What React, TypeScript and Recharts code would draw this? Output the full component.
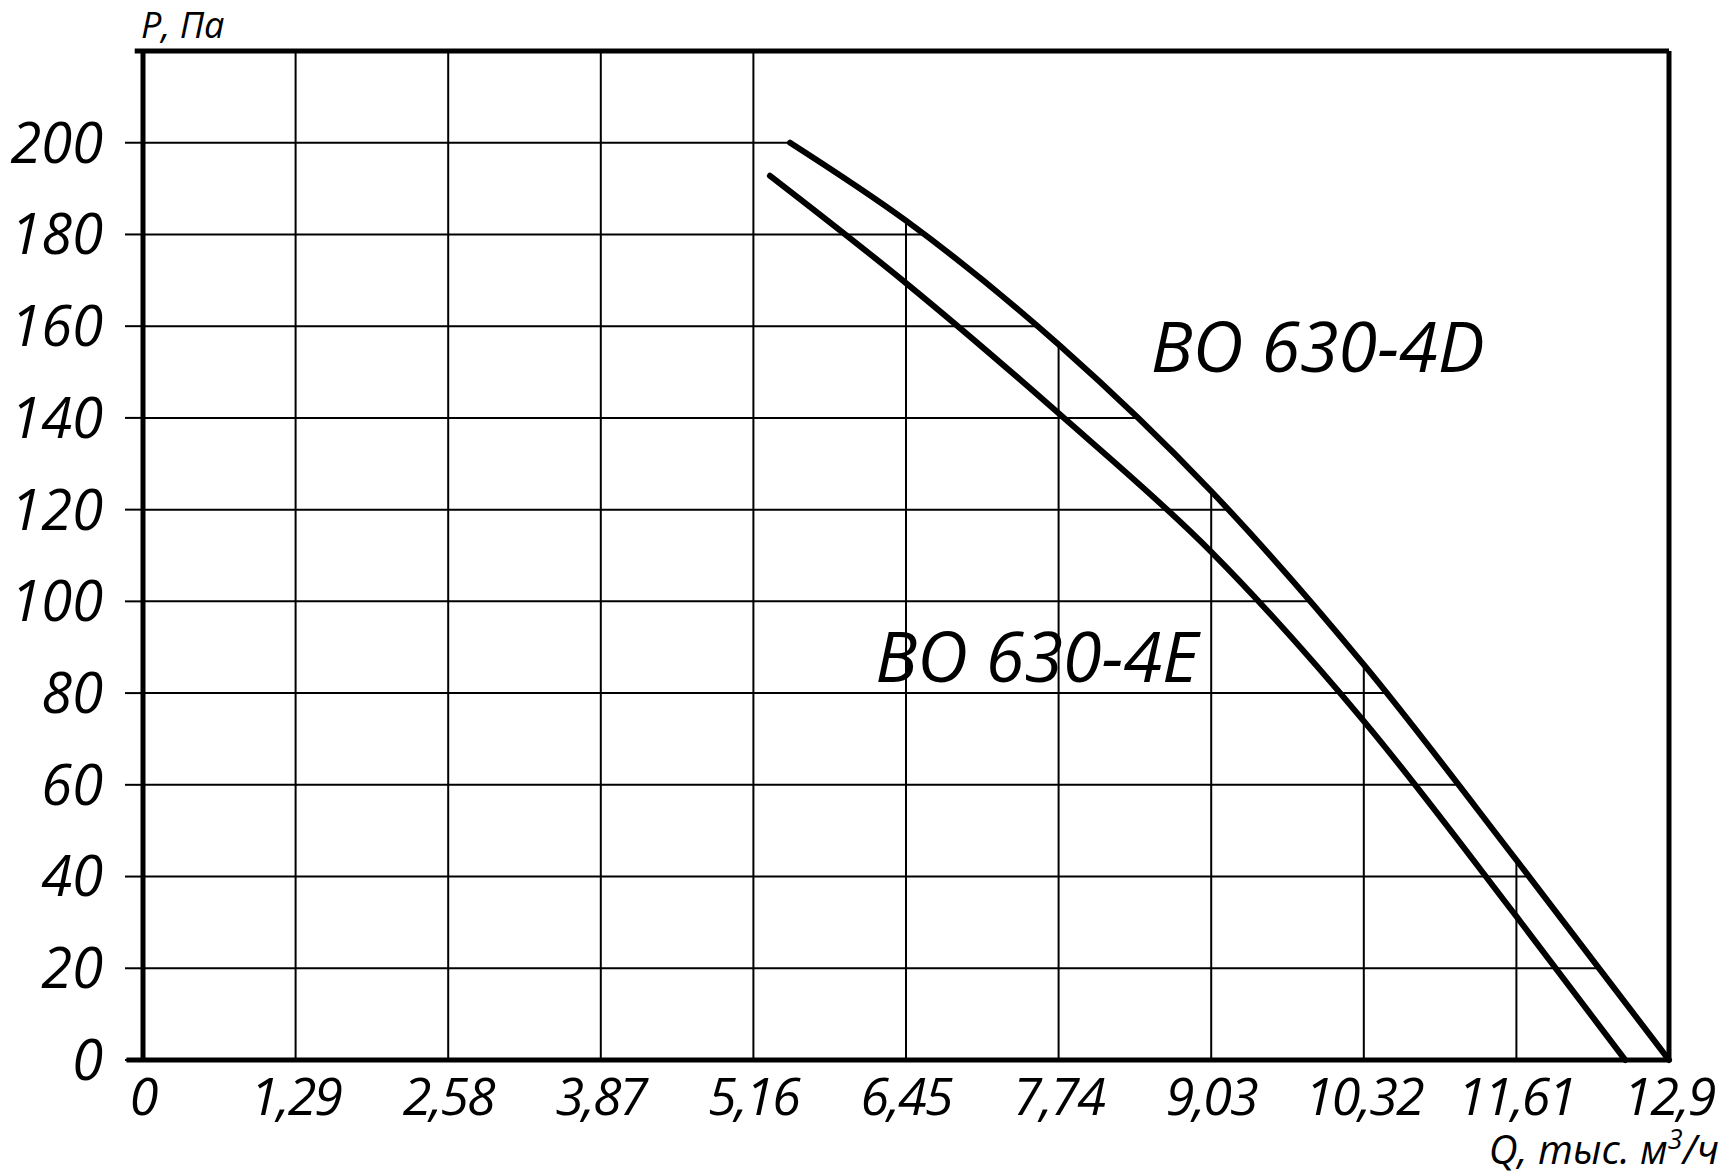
import React from 'react'
import {
  ComposedChart,
  Line,
  Area,
  XAxis,
  YAxis,
  CartesianGrid,
  ReferenceDot,
  ReferenceLine,
  Label,
} from 'recharts'

// Q, thousand m3/h
const xTicks = [0, 1.29, 2.58, 3.87, 5.16, 6.45, 7.74, 9.03, 10.32, 11.61, 12.9]
const xTickLabels = ['0', '1,29', '2,58', '3,87', '5,16', '6,45', '7,74', '9,03', '10,32', '11,61', '12,9']
// P, Pa
const yTicks = [0, 20, 40, 60, 80, 100, 120, 140, 160, 180, 200]

const curve4D = [
  { q: 5.47, p: 200 },
  { q: 6.45, p: 183 },
  { q: 7.74, p: 156 },
  { q: 9.03, p: 124 },
  { q: 10.32, p: 86.2 },
  { q: 11.61, p: 43.6 },
  { q: 12.9, p: 0 },
]

const curve4E = [
  { q: 5.3, p: 192.8 },
  { q: 6.45, p: 169.4 },
  { q: 7.74, p: 141 },
  { q: 9.03, p: 110.8 },
  { q: 10.32, p: 73.9 },
  { q: 11.61, p: 31.3 },
  { q: 12.53, p: 0 },
]

const curveLabels = [
  { text: 'BO 630-4D', q: 8.52, p: 150 },
  { text: 'BO 630-4E', q: 6.19, p: 82.4 },
]

const FONT = '"Open Sans", sans-serif'
const BLACK = '#000'

export default function App() {
  return (
    <div style={{ position: 'absolute', left: 0, top: 0, background: '#fff' }}>
      <ComposedChart width={1730} height={1176} margin={{ top: 51, right: 61, bottom: 56, left: 0 }}>
        <CartesianGrid stroke={BLACK} strokeWidth={2} />

        {/* white mask: the grid is not drawn above the upper curve */}
        <Area
          data={curve4D}
          dataKey="p"
          type="monotone"
          baseValue={220}
          fill="#fff"
          fillOpacity={1}
          stroke="none"
          isAnimationActive={false}
        />

        <Line
          data={curve4D}
          dataKey="p"
          type="monotone"
          stroke={BLACK}
          strokeWidth={6}
          strokeLinecap="round"
          dot={false}
          isAnimationActive={false}
        />
        <Line
          data={curve4E}
          dataKey="p"
          type="monotone"
          stroke={BLACK}
          strokeWidth={6}
          strokeLinecap="round"
          dot={false}
          isAnimationActive={false}
        />

        {/* frame drawn over the mask */}
        <ReferenceLine
          segment={[{ x: -0.07, y: 220 }, { x: 12.9, y: 220 }]}
          ifOverflow="visible"
          stroke={BLACK}
          strokeWidth={5}
        />
        <ReferenceLine x={12.9} stroke={BLACK} strokeWidth={5} />
        <ReferenceLine
          segment={[{ x: -0.14, y: 0 }, { x: 0, y: 0 }]}
          ifOverflow="visible"
          stroke={BLACK}
          strokeWidth={5}
        />

        {curveLabels.map((c) => (
          <ReferenceDot key={c.text} x={c.q} y={c.p} r={0} fill="none" stroke="none">
            <Label
              content={(props: any) => (
                <text
                  x={props.viewBox.x}
                  y={props.viewBox.y}
                  fontFamily={FONT}
                  fontStyle="italic"
                  fontSize={70}
                  fill={BLACK}
                >
                  {c.text}
                </text>
              )}
            />
          </ReferenceDot>
        ))}

        <XAxis
          dataKey="q"
          type="number"
          domain={[0, 12.9]}
          ticks={xTicks}
          interval={0}
          height={60}
          tickFormatter={(v: number) => xTickLabels[xTicks.indexOf(v)]}
          tickLine={false}
          tickSize={0}
          tickMargin={18}
          axisLine={{ stroke: BLACK, strokeWidth: 5 }}
          tick={{ fill: BLACK, fontSize: 52, fontStyle: 'italic', fontFamily: FONT, letterSpacing: -2 }}
        >
          <Label
            content={(props: any) => (
              <text
                x={props.viewBox.x + props.viewBox.width + 50}
                y={props.viewBox.y + 104}
                textAnchor="end"
                fontFamily={FONT}
                fontStyle="italic"
                fontSize={40}
                fill={BLACK}
              >
                <tspan>Q, тыс. м</tspan>
                <tspan dy={-15} fontSize={27}>3</tspan>
                <tspan dy={15}>/ч</tspan>
              </text>
            )}
          />
        </XAxis>
        <YAxis
          type="number"
          domain={[0, 220]}
          ticks={yTicks}
          interval={0}
          width={143}
          tickSize={18}
          tickMargin={22}
          tickLine={{ stroke: BLACK, strokeWidth: 2 }}
          axisLine={{ stroke: BLACK, strokeWidth: 5 }}
          tick={{ fill: BLACK, fontSize: 56, fontStyle: 'italic', fontFamily: FONT }}
        >
          <Label
            content={(props: any) => (
              <text
                x={props.viewBox.x + props.viewBox.width - 2}
                y={props.viewBox.y - 13}
                fontFamily={FONT}
                fontStyle="italic"
                fontSize={36}
                fill={BLACK}
              >
                P, Па
              </text>
            )}
          />
        </YAxis>

        <XAxis
          xAxisId="top"
          orientation="top"
          type="number"
          domain={[0, 12.9]}
          height={0}
          tick={false}
          tickLine={false}
          axisLine={{ stroke: BLACK, strokeWidth: 5 }}
        />
        <YAxis
          yAxisId="right"
          orientation="right"
          type="number"
          domain={[0, 220]}
          width={0}
          tick={false}
          tickLine={false}
          axisLine={{ stroke: BLACK, strokeWidth: 5 }}
        />
      </ComposedChart>
    </div>
  )
}
